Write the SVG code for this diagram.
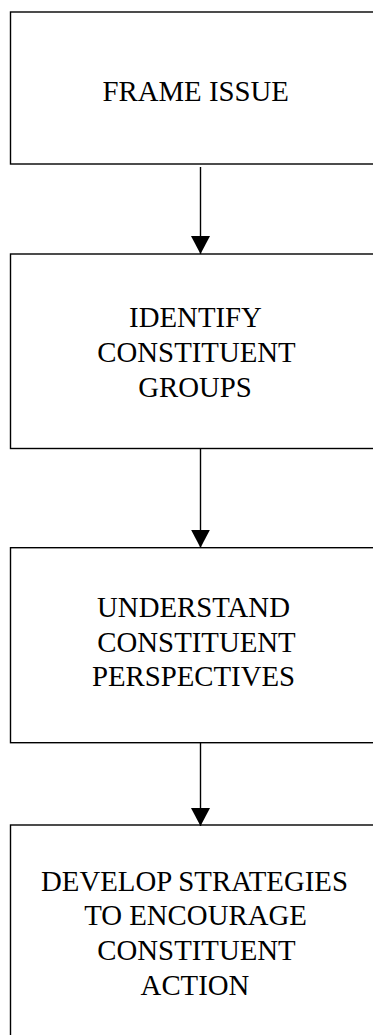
<svg xmlns="http://www.w3.org/2000/svg" width="373" height="1035" viewBox="0 0 373 1035">
<style>
.box{fill:#fff;stroke:#000;stroke-width:1.4}
.lbl{font-family:"Liberation Serif","Times New Roman",serif;font-size:28.8px;fill:#000;text-anchor:middle}
.conn{stroke:#000;stroke-width:1.4;fill:none}
</style>
<defs>
<marker id="arr" markerUnits="userSpaceOnUse" markerWidth="19" markerHeight="19" refX="18" refY="9.5" orient="auto" viewBox="0 0 19 19">
<path d="M0,0 L18,9.5 L0,19 Z" fill="#000"/>
</marker>
</defs>
<rect width="373" height="1035" fill="#fff"/>
<g id="n1">
<rect class="box" x="10.5" y="12" width="400" height="152"/>
<text class="lbl" x="195.7" y="100.7">FRAME ISSUE</text>
</g>
<g id="n2">
<rect class="box" x="10.5" y="254" width="400" height="194.5"/>
<text class="lbl" x="195.5" y="327.3">IDENTIFY</text>
<text class="lbl" x="196.5" y="362">CONSTITUENT</text>
<text class="lbl" x="195" y="396.7">GROUPS</text>
</g>
<g id="n3">
<rect class="box" x="10.5" y="547.7" width="400" height="195"/>
<text class="lbl" x="193.5" y="617.3">UNDERSTAND</text>
<text class="lbl" x="196.5" y="652">CONSTITUENT</text>
<text class="lbl" x="193.5" y="685.5">PERSPECTIVES</text>
</g>
<g id="n4">
<rect class="box" x="10.5" y="825" width="400" height="260"/>
<text class="lbl" x="194.5" y="890.7">DEVELOP STRATEGIES</text>
<text class="lbl" x="195.5" y="925.3">TO ENCOURAGE</text>
<text class="lbl" x="196.5" y="960">CONSTITUENT</text>
<text class="lbl" x="195" y="994.5">ACTION</text>
</g>
<g id="connectors">
<line class="conn" x1="200.5" y1="167" x2="200.5" y2="254" marker-end="url(#arr)"/>
<line class="conn" x1="200.5" y1="448.5" x2="200.5" y2="547.7" marker-end="url(#arr)"/>
<line class="conn" x1="200.5" y1="742.7" x2="200.5" y2="826" marker-end="url(#arr)"/>
</g>
</svg>
